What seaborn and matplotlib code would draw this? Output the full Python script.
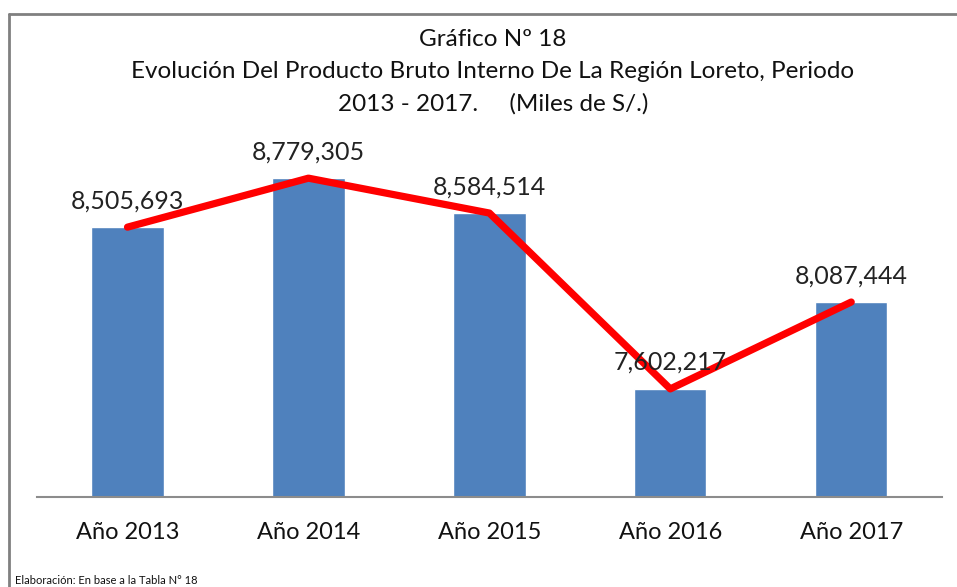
import matplotlib
matplotlib.use("Agg")
import matplotlib.pyplot as plt
import seaborn as sns
import pandas as pd
from matplotlib.lines import Line2D

# ==== Data ====
years = ["Año 2013", "Año 2014", "Año 2015", "Año 2016", "Año 2017"]
pbi = [8505693, 8779305, 8584514, 7602217, 8087444]

df = pd.DataFrame({"anio": years, "pbi": pbi})

# ==== Style ====
sns.set_style("white")
plt.rcParams["font.family"] = ["Lato", "DejaVu Sans"]

fig = plt.figure(figsize=(9.57, 5.87), dpi=100)
ax = fig.add_axes([0.0387, 0.1538, 0.9453, 0.61])

sns.barplot(data=df, x="anio", y="pbi", color="#4F81BD", width=0.4,
            saturation=1, ax=ax)
sns.lineplot(data=df, x="anio", y="pbi", color="#FF0000", linewidth=5.2,
             sort=False, ax=ax)

for i, v in enumerate(pbi):
    ax.annotate(f"{v:,}", (i, v), xytext=(0, 19), textcoords="offset points",
                ha="center", va="center", fontsize=18, color="#222222")

ax.set_ylim(7000000, 9000000)
ax.set_xlim(-0.5, 4.5)
ax.set_yticks([])
ax.set_xlabel("")
ax.set_ylabel("")
ax.tick_params(axis="x", length=0, labelsize=17, pad=18, colors="#111111")
for s in ["top", "left", "right"]:
    ax.spines[s].set_visible(False)
ax.spines["bottom"].set_color("#8c8c8c")
ax.spines["bottom"].set_linewidth(1.5)

# ==== Titles ====
title_kw = dict(ha="center", va="center", fontsize=17.5, color="#111111")
fig.text(493 / 957, 1 - 40 / 587, "Gráfico Nº 18", **title_kw)
fig.text(493 / 957, 1 - 72 / 587,
         "Evolución Del Producto Bruto Interno De La Región Loreto, Periodo",
         **title_kw)
fig.text(493 / 957, 1 - 104 / 587, "2013 - 2017.     (Miles de S/.)",
         **title_kw)

fig.text(15 / 957, 1 - 580 / 587, "Elaboración: En base a la Tabla N° 18",
         ha="left", va="center", fontsize=8, color="#111111")

# ==== Frame ====
fig.add_artist(Line2D([9 / 957, 1.0], [1 - 14 / 587, 1 - 14 / 587],
                      transform=fig.transFigure, color="#808080", linewidth=2))
fig.add_artist(Line2D([9 / 957, 9 / 957], [0, 1 - 14 / 587],
                      transform=fig.transFigure, color="#808080", linewidth=2))

fig.savefig("out.png", dpi=100)
